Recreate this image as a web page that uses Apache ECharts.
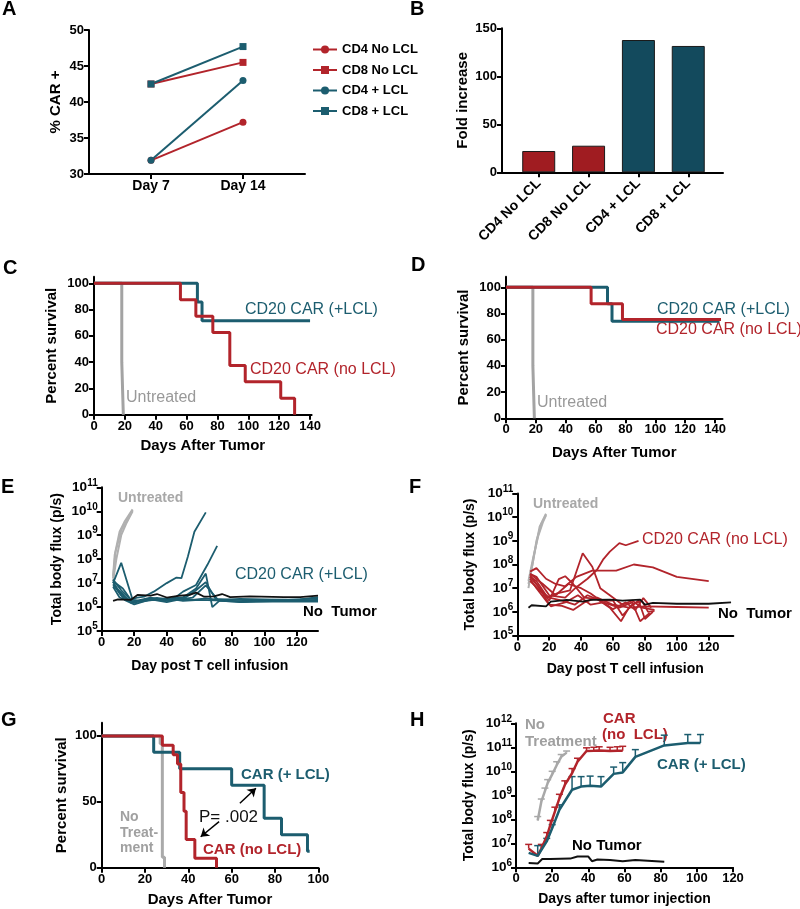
<!DOCTYPE html>
<html><head><meta charset="utf-8">
<script src="https://cdn.jsdelivr.net/npm/echarts@6/dist/echarts.min.js"></script>
<style>html,body{margin:0;padding:0;background:#fff}#c{width:800px;height:909px}</style>
</head><body><div id="c"></div>
<script>
// ---------- DATA ----------
// Panel A
const A_days = ['Day 7', 'Day 14'];
const A_CD4_noLCL = [31.9, 37.2];
const A_CD8_noLCL = [42.5, 45.5];
const A_CD4_LCL = [31.9, 43.0];
const A_CD8_LCL = [42.5, 47.7];
// Panel B
const B_cats = ['CD4 No LCL', 'CD8 No LCL', 'CD4 + LCL', 'CD8 + LCL'];
const B_vals = [22.2, 27.7, 137.8, 131.6];
// Panel C (Kaplan-Meier)
const C_untr_days = [0, 18, 19];
const C_untr_surv = [100, 40, 0];
const C_lcl_days = [0, 67, 70, 140];
const C_lcl_surv = [100, 85.7, 71.4, 71.4];
const C_nolcl_days = [0, 56, 66, 77, 88, 98, 121, 130];
const C_nolcl_surv = [100, 87.5, 75, 62.5, 37.5, 25, 12.5, 0];
// Panel D
const D_untr_days = [0, 18, 19];
const D_untr_surv = [100, 40, 0];
const D_lcl_days = [0, 68, 71, 143];
const D_lcl_surv = [100, 87.5, 74, 74];
const D_nolcl_days = [0, 57, 78, 144];
const D_nolcl_surv = [100, 87.5, 75.5, 75.5];
// Panel E (day, flux)
const E_untreated = [
  [[7, 2e7], [8, 1.5e8], [11, 1.4e9], [14, 3.6e9], [19, 1.2e10]],
  [[7, 1.2e7], [9, 1e8], [12, 1e9], [15, 3e9], [19, 1e10]],
  [[7, 1.6e7], [8.5, 2e8], [12, 1.6e9], [16, 4.5e9], [19, 1.1e10]]
];
const E_car = [
  [[7, 1e7], [12, 7e7], [19, 2e6], [25, 1.8e6], [32, 2.2e6], [40, 1.8e6], [48, 2.2e6], [56, 2e6], [64, 2.3e6], [72, 2e6], [85, 2.2e6], [100, 2.1e6], [115, 2e6], [133, 2.3e6]],
  [[7, 1.4e7], [12, 5e6], [18, 2e6], [22, 2.5e6], [26, 2.7e6], [32, 4.4e6], [40, 1e7], [46, 1.7e7], [49, 1.6e7], [53, 1.3e8], [57, 1.4e9], [64, 9e9]],
  [[7, 8e6], [12, 4e6], [18, 1.5e6], [24, 2e6], [30, 2.5e6], [38, 2e6], [44, 2.2e6], [50, 4.4e6], [58, 8.3e6], [65, 5.8e7], [71, 3.6e8]],
  [[7, 1.2e7], [13, 6e6], [19, 1.6e6], [26, 2e6], [34, 2.4e6], [42, 2e6], [50, 2.5e6], [58, 6e6], [64, 2.5e7], [68, 1e6], [73, 2e6], [85, 1.7e6], [100, 1.8e6], [133, 1.8e6]],
  [[7, 9e6], [12, 3e6], [20, 1.5e6], [28, 2.2e6], [36, 1.9e6], [44, 2.4e6], [52, 2.6e6], [58, 5e6], [64, 1.1e7], [70, 2.2e6], [80, 2e6], [95, 1.9e6], [110, 1.9e6], [133, 2e6]],
  [[7, 7e6], [11, 2.5e6], [17, 1.8e6], [24, 1.7e6], [32, 2e6], [40, 1.6e6], [48, 2.1e6], [56, 2.5e6], [64, 8e6], [72, 1.8e6], [86, 1.7e6], [104, 2e6], [122, 2.1e6], [133, 2.6e6]],
  [[7, 1.1e7], [14, 2e6], [20, 1.3e6], [30, 2.1e6], [40, 2.3e6], [50, 1.8e6], [60, 2e6], [70, 1.9e6], [85, 1.6e6], [105, 1.7e6], [133, 1.7e6]]
];
const E_noTumor = [[7, 1.8e6], [10, 2.1e6], [18, 2e6], [22, 3.2e6], [30, 3e6], [34, 3.5e6], [40, 2.5e6], [48, 3e6], [54, 3.2e6], [58, 4e6], [63, 2.7e6], [69, 2.8e6], [74, 3.5e6], [79, 2.6e6], [91, 2.8e6], [112, 2.6e6], [122, 2.6e6], [133, 3e6]];
// Panel F
const F_untreated = [
  [[7, 1e7], [9, 6.8e7], [12, 8e8], [14, 4e9], [18, 1.4e10]],
  [[7, 1.5e7], [9.5, 1e8], [12, 1e9], [15, 5e9], [18, 1.3e10]],
  [[7, 2e7], [10, 2e8], [13, 1.5e9], [16, 6e9], [18, 1.2e10]]
];
const F_car = [
  [[8, 4e7], [12, 3e7], [20, 5e6], [30, 4e6], [37, 1.1e7], [44, 2.5e7], [50, 6e7], [54, 1.7e8], [58, 3.5e8], [64, 8e8], [68, 6.5e8], [76, 1e9]],
  [[8, 5e7], [12, 7e7], [18, 2.5e7], [24, 1.5e7], [30, 1.2e7], [37, 3e7], [47, 5.5e7], [62, 5.5e7], [73, 1e8], [85, 7.5e7], [100, 3e7], [120, 2e7]],
  [[8, 3e7], [12, 2e7], [19, 4e6], [25, 6e6], [33, 8e6], [41, 3e8], [47, 8e7], [52, 1e7], [58, 5e6], [66, 2e6], [72, 3e6], [78, 1.5e6], [86, 1.2e6]],
  [[8, 3.5e7], [12, 1.5e7], [20, 3e6], [26, 2.4e7], [30, 3.2e7], [35, 1.5e7], [42, 4e6], [50, 3.5e6], [58, 1.5e6], [65, 4e5], [70, 1.5e6], [76, 3e6], [80, 5e5], [85, 1e6]],
  [[8, 2.5e7], [12, 1e7], [20, 2e6], [28, 1.8e6], [35, 1.2e6], [42, 2.5e6], [50, 4e6], [60, 2e6], [70, 1.5e6], [80, 1.7e6], [100, 1.6e6], [120, 1.5e6]],
  [[8, 2e7], [14, 8e6], [20, 4e6], [28, 3e6], [36, 2e6], [44, 5e6], [52, 3e6], [60, 3e6], [66, 7e5], [72, 2e6], [78, 3e6], [82, 1e6], [86, 1.1e6]],
  [[8, 3e7], [13, 1.2e7], [21, 1.7e6], [30, 2.5e6], [38, 5e6], [46, 2e6], [54, 2.5e6], [64, 1.5e6], [72, 2.5e6], [77, 4e5], [83, 9e5]],
  [[8, 4e7], [16, 1.5e7], [24, 5e6], [32, 1.5e7], [40, 1e7], [46, 6e6], [52, 3e6], [60, 1.3e6], [68, 2.5e6], [74, 1.2e6], [79, 3.8e6], [84, 1.5e6]]
];
const F_noTumor = [[7, 1.5e6], [9, 1.9e6], [18, 1.7e6], [21, 2.7e6], [31, 3.2e6], [41, 2.7e6], [46, 3.2e6], [58, 3.3e6], [66, 3e6], [77, 3.3e6], [80, 2e6], [85, 2.4e6], [100, 2.2e6], [120, 2.2e6], [134, 2.5e6]];
// Panel G
const G_noTx_days = [0, 27, 28, 29];
const G_noTx_surv = [100, 94, 8, 0];
const G_lcl_days = [0, 24, 36, 60, 75, 83, 95, 96];
const G_lcl_surv = [100, 87.5, 75, 62.5, 37.5, 25, 12.5, 12.5];
const G_nolcl_days = [0, 28, 33, 35, 36.5, 38, 39, 43, 53];
const G_nolcl_surv = [100, 92.9, 85.7, 78.6, 57.1, 42.9, 21.4, 7.1, 0];
const G_arrows = [[[63.8, 48.9], [71.2, 60.3]], [[54.2, 34.9], [45.7, 23.5]]];
// Panel H
const H_noTx_days = [12, 14, 16, 17.5, 20, 22.5, 25, 28];
const H_noTx_vals = [9e7, 5.4e8, 1.5e9, 3.2e9, 7.4e9, 1.8e10, 4e10, 6e10];
const H_noTx_err = [1.3e8, 7e8, 2e9, 4.5e9, 1e10, 2.5e10, 5e10, 7e10];
const H_nolcl_days = [7, 12, 14, 17, 19, 21.5, 24, 27, 31, 34, 39, 43, 46, 52, 56, 59];
const H_nolcl_vals = [6e6, 3e6, 6e6, 1.9e7, 5.8e7, 2.1e8, 7.4e8, 2.7e9, 8.3e9, 2.5e10, 7e10, 7.2e10, 7.4e10, 7e10, 7.2e10, 7.2e10];
const H_nolcl_err = [9e6, 3e6, 9e6, 2.8e7, 9e7, 3.2e8, 1.1e9, 4e9, 1.3e10, 3.5e10, 9.5e10, 1e11, 1.05e11, 1e11, 1.05e11, 1.1e11];
const H_lcl_days = [7, 12, 17, 20, 24, 31, 36, 41, 47, 54, 59, 66, 82, 95, 102];
const H_lcl_vals = [4e6, 3e6, 1.2e7, 4.2e7, 2.5e8, 1.7e9, 2.3e9, 2.5e9, 2.3e9, 7.8e9, 9e9, 4e10, 1.2e11, 1.5e11, 1.5e11];
const H_lcl_err = [4e6, 8e6, 1.6e7, 6e7, 4e8, 6e9, 6e9, 6.3e9, 6e9, 1.5e10, 2.3e10, 8e10, 3.2e11, 3.4e11, 3.4e11];
const H_noTumor_days = [7, 12, 14.5, 19, 30, 34, 40, 42, 45, 52, 59, 66, 82];
const H_noTumor_vals = [1.5e6, 1.45e6, 2.2e6, 2.2e6, 2.3e6, 2.8e6, 2.8e6, 1.8e6, 2.1e6, 2e6, 1.8e6, 2e6, 1.7e6];

// ---------- STYLE ----------
const FONT = '"Liberation Sans", Arial, Helvetica, sans-serif';
const RED = '#B2242B', TEAL = '#1C5D6F', GRAY = '#A3A3A3', BLACK = '#111111';
const BAR_RED = '#A01C21', BAR_TEAL = '#134A5D';
const zip = (a, b) => a.map((v, i) => [v, b[i]]);
const range = (a, b, s) => { const r = []; for (let v = a; v <= b + 1e-9; v += s) r.push(v); return r; };

const grids = [
  { left: 89, top: 30, width: 216, height: 144 },      // A
  { left: 502, top: 28.3, width: 221, height: 144 },   // B
  { left: 94, top: 276.7, width: 217.6, height: 138 }, // C
  { left: 506, top: 276.8, width: 216.5, height: 141.5 }, // D
  { left: 101.7, top: 487.3, width: 216.3, height: 143.7 }, // E
  { left: 517.3, top: 493.5, width: 216, height: 142 }, // F
  { left: 101.7, top: 722.7, width: 216.6, height: 145 }, // G
  { left: 516, top: 723.3, width: 217, height: 144 }  // H
];

const lab = (extra) => Object.assign({ color: '#000', fontSize: 13, fontWeight: 'bold', fontFamily: FONT, margin: 5 }, extra || {});
function vAxis(gi, min, max, ticks, extra) {
  return Object.assign({
    type: 'value', gridIndex: gi, min, max,
    axisLine: { show: true, onZero: false, lineStyle: { color: '#000', width: 2 } },
    axisTick: { show: true, length: 5, customValues: ticks, lineStyle: { color: '#000', width: 2 } },
    axisLabel: lab({ customValues: ticks }),
    splitLine: { show: false },
    nameLocation: 'middle',
    nameTextStyle: { color: '#000', fontSize: 15, fontWeight: 'bold', fontFamily: FONT }
  }, extra || {});
}
function logAxis(gi, min, max, extra) {
  return Object.assign({
    type: 'log', gridIndex: gi, min, max, logBase: 10, splitNumber: 6,
    axisLine: { show: true, lineStyle: { color: '#000', width: 2 } },
    axisTick: { show: true, length: 5, lineStyle: { color: '#000', width: 2 } },
    axisLabel: lab({
      margin: 4, fontSize: 13.5,
      formatter: v => '10{s|' + Math.round(Math.log10(v)) + '}',
      rich: { s: { fontSize: 10, fontWeight: 'bold', fontFamily: FONT, color: '#000', padding: [0, 0, 9, 0] } }
    }),
    splitLine: { show: false },
    nameLocation: 'middle',
    nameTextStyle: { color: '#000', fontSize: 14, fontWeight: 'bold', fontFamily: FONT }
  }, extra || {});
}
const name14 = { color: '#000', fontSize: 14, fontWeight: 'bold', fontFamily: FONT };

const xAxes = [
  vAxis(0, -0.674, 1.674, [0, 1], { axisLabel: lab({ customValues: [0, 1], fontSize: 14, formatter: v => A_days[Math.round(v)] }) }),
  vAxis(1, -0.737, 3.697, [0, 1, 2, 3], { axisLabel: lab({ customValues: [0, 1, 2, 3], rotate: 45, fontSize: 14, margin: 9, formatter: v => B_cats[Math.round(v)] }) }),
  vAxis(2, 0, 141, range(0, 140, 20), { name: 'Days After Tumor', nameGap: 24 }),
  vAxis(3, 0, 145, range(0, 140, 20), { name: 'Days After Tumor', nameGap: 27 }),
  vAxis(4, 0, 133, range(0, 120, 20), { name: 'Day post T cell infusion', nameGap: 28, nameTextStyle: name14 }),
  vAxis(5, 0, 135.4, range(0, 120, 20), { name: 'Day post T cell infusion', nameGap: 27, nameTextStyle: name14 }),
  vAxis(6, 0, 100, range(0, 100, 20), { name: 'Days After Tumor', nameGap: 25 }),
  vAxis(7, 0, 120, range(0, 120, 20), { name: 'Days after tumor injection', nameGap: 25, nameTextStyle: name14 })
];
const yAxes = [
  vAxis(0, 30, 50, range(30, 50, 5), { name: '% CAR +', nameGap: 26 }),
  vAxis(1, 0, 150, range(0, 150, 50), { name: 'Fold increase', nameGap: 32 }),
  vAxis(2, 0, 105, range(0, 100, 20), { name: 'Percent survival', nameGap: 35 }),
  vAxis(3, 0, 108, range(0, 100, 20), { name: 'Percent survival', nameGap: 35 }),
  logAxis(4, 1e5, 1e11, { name: 'Total body flux (p/s)', nameGap: 38 }),
  logAxis(5, 1e5, 1e11, { name: 'Total body flux (p/s)', nameGap: 40 }),
  vAxis(6, 0, 110, [0, 50, 100], { name: 'Percent survival', nameGap: 32 }),
  logAxis(7, 1e6, 1e12, { name: 'Total body flux (p/s)', nameGap: 40 })
];

const series = [];
function line(gi, name, data, color, width, extra) {
  series.push(Object.assign({
    type: 'line', name, xAxisIndex: gi, yAxisIndex: gi, data,
    showSymbol: false, symbol: 'none', smooth: false, animation: false,
    lineStyle: { color, width }, itemStyle: { color }, silent: true, clip: false
  }, extra || {}));
}
function km(gi, days, surv, color, w) {
  line(gi, '', zip(days, surv), color, w || 3, { step: 'end' });
}
// A
const idx = [0, 1];
line(0, 'CD4 No LCL', zip(idx, A_CD4_noLCL), RED, 2, { showSymbol: true, symbol: 'circle', symbolSize: 7 });
line(0, 'CD8 No LCL', zip(idx, A_CD8_noLCL), RED, 2, { showSymbol: true, symbol: 'rect', symbolSize: 7 });
line(0, 'CD4 + LCL', zip(idx, A_CD4_LCL), TEAL, 2, { showSymbol: true, symbol: 'circle', symbolSize: 7 });
line(0, 'CD8 + LCL', zip(idx, A_CD8_LCL), TEAL, 2, { showSymbol: true, symbol: 'rect', symbolSize: 7 });
// B
series.push({
  type: 'bar', xAxisIndex: 1, yAxisIndex: 1, barWidth: 33, animation: false,
  data: B_vals.map((v, i) => ({ value: [i, v], itemStyle: { color: i < 2 ? BAR_RED : BAR_TEAL, borderColor: '#1a1a1a', borderWidth: 1 } }))
});
// C
km(2, C_untr_days, C_untr_surv, GRAY);
km(2, C_lcl_days, C_lcl_surv, TEAL);
km(2, C_nolcl_days, C_nolcl_surv, RED);
// D
km(3, D_untr_days, D_untr_surv, GRAY);
km(3, D_lcl_days, D_lcl_surv, TEAL);
km(3, D_nolcl_days, D_nolcl_surv, RED);
// E
E_untreated.forEach(d => line(4, '', d, '#B0B0B0', 2));
E_car.forEach(d => line(4, '', d, TEAL, 1.8));
line(4, '', E_noTumor, BLACK, 1.8);
// F
F_untreated.forEach(d => line(5, '', d, '#B0B0B0', 2));
F_car.forEach(d => line(5, '', d, RED, 1.8));
line(5, '', F_noTumor, BLACK, 1.8);
// G
km(6, G_noTx_days, G_noTx_surv, '#AAAAAA');
km(6, G_lcl_days, G_lcl_surv, TEAL);
km(6, G_nolcl_days, G_nolcl_surv, RED);
series.push({
  type: 'line', xAxisIndex: 6, yAxisIndex: 6, data: [], silent: true, animation: false,
  markLine: {
    silent: true, animation: false, symbol: ['none', 'arrow'], symbolSize: 8,
    label: { show: false }, lineStyle: { color: '#000', width: 1.5, type: 'solid' },
    data: G_arrows.map(a => [{ coord: a[0] }, { coord: a[1] }])
  }
});
// H
function errBars(gi, days, vals, errs, color) {
  series.push({
    type: 'custom', xAxisIndex: gi, yAxisIndex: gi, animation: false, silent: true,
    data: days.map((d, i) => [d, vals[i], errs[i]]),
    encode: { x: 0, y: [1, 2] },
    renderItem: (params, api) => {
      const p0 = api.coord([api.value(0), api.value(1)]);
      const p1 = api.coord([api.value(0), api.value(2)]);
      if (p0[1] - p1[1] < 1) return null;
      return {
        type: 'group', children: [
          { type: 'line', shape: { x1: p0[0], y1: p0[1], x2: p1[0], y2: p1[1] }, style: { stroke: color, lineWidth: 1.5 } },
          { type: 'line', shape: { x1: p1[0] - 3.5, y1: p1[1], x2: p1[0] + 3.5, y2: p1[1] }, style: { stroke: color, lineWidth: 1.5 } }
        ]
      };
    }
  });
}
errBars(7, H_noTx_days, H_noTx_vals, H_noTx_err, '#A8A8A8');
line(7, '', zip(H_noTx_days, H_noTx_vals), '#A8A8A8', 2.5);
errBars(7, H_nolcl_days, H_nolcl_vals, H_nolcl_err, RED);
line(7, '', zip(H_nolcl_days, H_nolcl_vals), RED, 2.5);
errBars(7, H_lcl_days, H_lcl_vals, H_lcl_err, TEAL);
line(7, '', zip(H_lcl_days, H_lcl_vals), TEAL, 2.5);
line(7, '', zip(H_noTumor_days, H_noTumor_vals), BLACK, 2);

// ---------- TEXT ----------
function T(x, y, text, color, size, weight) {
  return { type: 'text', x, y, silent: true, style: { text, fill: color, fontSize: size, fontWeight: weight || 'normal', fontFamily: FONT, verticalAlign: 'middle', align: 'left' } };
}
const graphic = [
  T(2, 9, 'A', '#000', 20, 'bold'), T(410, 9, 'B', '#000', 20, 'bold'),
  T(3, 268, 'C', '#000', 20, 'bold'), T(411, 265, 'D', '#000', 20, 'bold'),
  T(1, 487, 'E', '#000', 20, 'bold'), T(409, 487, 'F', '#000', 20, 'bold'),
  T(1, 720, 'G', '#000', 20, 'bold'), T(410, 720, 'H', '#000', 20, 'bold'),
  // C
  T(245, 310, 'CD20 CAR (+LCL)', TEAL, 16), T(250, 370, 'CD20 CAR (no LCL)', RED, 16), T(126, 398, 'Untreated', '#999999', 16),
  // D
  T(657, 310, 'CD20 CAR (+LCL)', TEAL, 16), T(656, 330, 'CD20 CAR (no LCL)', RED, 16), T(537, 403, 'Untreated', '#999999', 16),
  // E
  T(118, 498, 'Untreated', '#A8A8A8', 14, 'bold'), T(235, 575, 'CD20 CAR (+LCL)', TEAL, 16), T(303, 612, 'No  Tumor', '#000', 15, 'bold'),
  // F
  T(533, 504, 'Untreated', '#A8A8A8', 14, 'bold'), T(642, 540, 'CD20 CAR (no LCL)', RED, 16), T(718, 614, 'No  Tumor', '#000', 15, 'bold'),
  // G
  T(120, 817, 'No', '#A0A0A0', 14, 'bold'), T(120, 833, 'Treat-', '#A0A0A0', 14, 'bold'), T(120, 848, 'ment', '#A0A0A0', 14, 'bold'),
  T(199, 817, 'P= .002', '#111', 17), T(241, 775, 'CAR (+ LCL)', TEAL, 15, 'bold'), T(203, 850, 'CAR (no LCL)', RED, 15, 'bold'),
  // H
  T(525, 725, 'No', '#A0A0A0', 15, 'bold'), T(525, 742, 'Treatment', '#A0A0A0', 15, 'bold'),
  T(603, 719, 'CAR', RED, 15, 'bold'), T(602, 735, '(no  LCL)', RED, 15, 'bold'),
  T(657, 765, 'CAR (+ LCL)', TEAL, 15, 'bold'), T(572, 846, 'No Tumor', '#000', 15, 'bold')
];

const chart = echarts.init(document.getElementById('c'), null, { renderer: 'canvas' });
chart.setOption({
  animation: false,
  backgroundColor: '#fff',
  grid: grids,
  xAxis: xAxes,
  yAxis: yAxes,
  legend: {
    data: ['CD4 No LCL', 'CD8 No LCL', 'CD4 + LCL', 'CD8 + LCL'],
    orient: 'vertical', left: 307, top: 38, itemWidth: 24, itemHeight: 10, itemGap: 7.5,
    textStyle: { color: '#000', fontSize: 13, fontWeight: 'bold', fontFamily: FONT },
    selectedMode: false
  },
  series,
  graphic
});
</script></body></html>
